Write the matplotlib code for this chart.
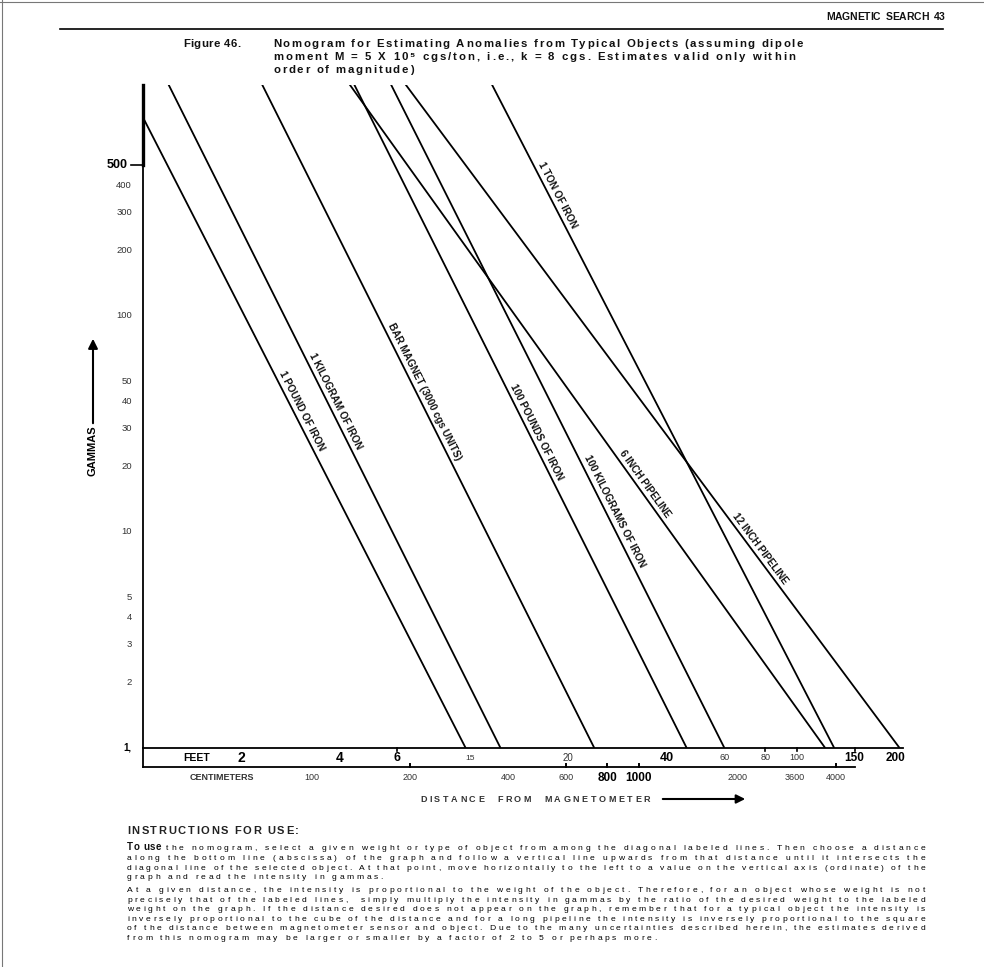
import numpy as np
import matplotlib
matplotlib.use("Agg")
import matplotlib.pyplot as plt
from matplotlib.font_manager import FontProperties
from matplotlib.patches import FancyArrowPatch
from matplotlib.ticker import NullLocator

W, H = 984, 967
NARROW = ["Liberation Sans Narrow", "Liberation Sans", "DejaVu Sans"]
SANS = ["Liberation Sans", "DejaVu Sans"]

# ordinate (gammas)
gamma_ticks = [2, 3, 4, 5, 10, 20, 30, 40, 50, 100, 200, 300, 400]
gamma_labels = ["2", "3", "4", "5", "10", "20", "30", "40", "50", "100", "200", "300", "400"]

# abscissa: feet row and centimeter row
feet_pos = [2, 4, 6, 10, 20, 40, 60, 80, 100, 150, 200]
feet_text = ["2", "4", "6", "15", "20", "40", "60", "80", "100", "150", "200"]
feet_size = [10, 10, 9, 6, 7, 9, 6.5, 6.5, 6.5, 8.5, 8.5]
cm_pos = [100, 200, 400, 600, 800, 1000, 2000, 3000, 4000]
cm_text = ["100", "200", "400", "600", "800", "1000", "2000", "3600", "4000"]
cm_size = [6.5, 6.5, 6.5, 6.5, 8.5, 8.5, 6.5, 6.5, 6.5]

# diagonal lines: upper end and lower end (feet, gammas)
line_names = ["1 POUND OF IRON", "1 KILOGRAM OF IRON", "BAR MAGNET (3000 cgs UNITS)",
              "100 POUNDS OF IRON", "100 KILOGRAMS OF IRON", "6 INCH PIPELINE",
              "12 INCH PIPELINE", "1 TON OF IRON"]
top_ft = [1.0, 1.19, 2.3, 4.4, 5.7, 4.25, 6.3, 11.6]
top_gamma = [830, 1200, 1200, 1200, 1200, 1200, 1200, 1200]
bottom_ft = [9.7, 12.4, 24, 46, 60, 122, 206, 130]
bottom_gamma = [1, 1, 1, 1, 1, 1, 1, 1]
label_gamma = [35, 39, 43, 28, 12, 16, 8, 350]

title_lines = ["Nomogram for Estimating Anomalies from Typical Objects (assuming dipole",
               "moment M = 5 X 10\u2075 cgs/ton, i.e., k = 8 cgs. Estimates valid only within",
               "order of magnitude)"]

para1 = ["the nomogram, select a given weight or type of object from among the diagonal labeled lines. Then choose a distance",
         "along the bottom line (abscissa) of the graph and follow a vertical line upwards from that distance until it intersects the",
         "diagonal line of the selected object. At that point, move horizontally to the left to a value on the vertical axis (ordinate) of the",
         "graph and read the intensity in gammas."]
para2 = ["At a given distance, the intensity is proportional to the weight of the object. Therefore, for an object whose weight is not",
         "precisely that of the labeled lines,  simply multiply the intensity in gammas by the ratio of the desired weight to the labeled",
         "weight on the graph. If the distance desired does not appear on the graph, remember that for a typical object the intensity is",
         "inversely proportional to the cube of the distance and for a long pipeline the intensity is inversely proportional to the square",
         "of the distance between magnetometer sensor and object. Due to the many uncertainties described herein, the estimates derived",
         "from this nomogram may be larger or smaller by a factor of 2 to 5 or perhaps more."]

fig = plt.figure(figsize=(W / 100, H / 100), dpi=100)
renderer = fig.canvas.get_renderer()

# plot box in page pixels
L, R, T, B = 143, 903, 85, 748
ax = fig.add_axes([L / W, 1 - B / H, (R - L) / W, (B - T) / H])
ax.set_xscale("log")
ax.set_yscale("log")
ax.set_xlim(1, 211)
ax.set_ylim(1, 1173)
for s in ["top", "right"]:
    ax.spines[s].set_visible(False)
for s in ["left", "bottom"]:
    ax.spines[s].set_linewidth(1.3)
for a in [ax.xaxis, ax.yaxis]:
    a.set_major_locator(NullLocator())
    a.set_minor_locator(NullLocator())


def ay(py):
    return (B - py) / (B - T)


def axx(px):
    return (px - L) / (R - L)


def cw(c, fp):
    if c == " ":
        return (renderer.get_text_width_height_descent("x x", fp, ismath=False)[0]
                - renderer.get_text_width_height_descent("xx", fp, ismath=False)[0])
    return renderer.get_text_width_height_descent(c, fp, ismath=False)[0]


def spaced(text, x0, y, size, x1=None, gap=None, weight="normal", color="#1a1a1a", family=SANS):
    fp = FontProperties(family=family, size=size, weight=weight)
    widths = [cw(c, fp) for c in text]
    if x1 is not None:
        gap = (x1 - x0 - sum(widths)) / (len(text) - 1)
    x = x0
    for c, w in zip(text, widths):
        if c != " ":
            fig.text(x / W, 1 - y / H, c, fontproperties=fp, color=color, ha="left", va="baseline")
        x += w + gap
    return gap, x


# diagonal lines
for x0, g0, x1, g1 in zip(top_ft, top_gamma, bottom_ft, bottom_gamma):
    ax.plot([x0, x1], [g0, g1], color="black", lw=1.3, solid_capstyle="butt")

lab_fp = FontProperties(family=NARROW, size=7.2, weight="bold")
for name, x0, g0, x1, g1, g in zip(line_names, top_ft, top_gamma, bottom_ft, bottom_gamma, label_gamma):
    t = (np.log10(g) - np.log10(g0)) / (np.log10(g1) - np.log10(g0))
    xl = 10 ** (np.log10(x0) + t * (np.log10(x1) - np.log10(x0)))
    p0 = ax.transData.transform((x0, g0))
    p1 = ax.transData.transform((x1, g1))
    ang = np.arctan2(p1[1] - p0[1], p1[0] - p0[0])
    off = 5.5
    ax.annotate(name, (xl, g), xytext=(-np.sin(ang) * off, np.cos(ang) * off),
                textcoords="offset points", rotation=np.degrees(ang), rotation_mode="anchor",
                ha="center", va="center", fontproperties=lab_fp, color="#111")

# ordinate labels
ytr = ax.get_yaxis_transform()
for v, s in zip(gamma_ticks, gamma_labels):
    ax.text(axx(132), v, s, transform=ytr, ha="right", va="center", fontsize=6.8,
            color="#333", family=SANS, clip_on=False)
ax.text(axx(128), 500, "500", transform=ytr, ha="right", va="center", fontsize=9,
        fontweight="bold", family=SANS, clip_on=False)
ax.plot([axx(131), 0], [500, 500], transform=ytr, color="black", lw=1.2, clip_on=False)
ax.plot([0, 0], [500, 1173], transform=ytr, color="black", lw=2.4, clip_on=False)
ax.text(axx(131), 1, "1,", transform=ytr, ha="right", va="center", fontsize=7,
        fontweight="bold", family=SANS, clip_on=False)

# abscissa rows
xtr = ax.get_xaxis_transform()
ax.plot([0, 0], [0, ay(767)], transform=ax.transAxes, color="black", lw=1.3, clip_on=False)
ax.plot([1, 4574 / 30.48], [ay(767), ay(767)], transform=xtr, color="black", lw=1.3, clip_on=False)
ax.text(axx(197), ay(758), "FEET", transform=ax.transAxes, ha="center", va="center",
        fontsize=7.5, fontweight="bold", family=SANS)
for v, s, fs in zip(feet_pos, feet_text, feet_size):
    bold = fs >= 8.5
    ax.text(v, ay(758), s, transform=xtr, ha="center", va="center", fontsize=fs,
            fontweight="bold" if bold else "normal", color="black" if bold else "#333",
            family=SANS, clip_on=False)
for v in [6, 80, 100, 150]:
    ax.plot([v, v], [0, ay(751)], transform=xtr, color="black", lw=1.2, clip_on=False)
ax.text(axx(222), ay(778), "CENTIMETERS", transform=ax.transAxes, ha="center", va="center",
        fontsize=6.5, fontweight="bold", color="#333", family=SANS)
for v, s, fs in zip(cm_pos, cm_text, cm_size):
    bold = fs >= 8.5
    ax.text(v / 30.48, ay(778), s, transform=xtr, ha="center", va="center", fontsize=fs,
            fontweight="bold" if bold else "normal", color="black" if bold else "#333",
            family=SANS, clip_on=False)
for v in [200, 600, 800, 1000, 4000]:
    ax.plot([v / 30.48, v / 30.48], [ay(767), ay(764)], transform=xtr, color="black", lw=1.4, clip_on=False)

spaced("DISTANCE  FROM  MAGNETOMETER", 420, 802, 6.5, x1=650, weight="bold", color="#333")
fig.add_artist(FancyArrowPatch((660 / W, 1 - 799 / H), (748 / W, 1 - 799 / H), transform=fig.transFigure,
                               arrowstyle="-|>", mutation_scale=13, lw=1.5, color="black"))

fig.text(93 / W, 1 - 451 / H, "GAMMAS", rotation=90, ha="center", va="center", fontsize=8,
         fontweight="bold", family=NARROW)
fig.add_artist(FancyArrowPatch((93 / W, 1 - 426 / H), (93 / W, 1 - 336 / H), transform=fig.transFigure,
                               arrowstyle="-|>", mutation_scale=14, lw=1.5, color="black"))

# page header
fig.add_artist(plt.Line2D([0.002, 0.002], [0, 1], transform=fig.transFigure, color="#777", lw=0.8))
fig.add_artist(plt.Line2D([0, 1], [0.998, 0.998], transform=fig.transFigure, color="#777", lw=0.8))
spaced("MAGNETIC  SEARCH  43", 826, 20, 7.5, x1=945, weight="bold", color="#111")
fig.add_artist(plt.Line2D([60 / W, 943 / W], [1 - 29 / H, 1 - 29 / H], transform=fig.transFigure,
                          color="black", lw=1.2))

tsize = 8.2
spaced("Figure 46.", 183, 47, tsize, gap=0.4, weight="bold", family=NARROW, color="#111")
g1, _ = spaced(title_lines[0], 273, 47, tsize, x1=803, weight="bold", family=NARROW, color="#111")
g2, _ = spaced(title_lines[1], 273, 59.8, tsize, x1=795, weight="bold", family=NARROW, color="#111")
spaced(title_lines[2], 273, 72.6, tsize, gap=(g1 + g2) / 2, weight="bold", family=NARROW, color="#111")

# instructions
bsize = 6.1
spaced("INSTRUCTIONS FOR USE:", 127, 834, 8, gap=1.6, weight="bold", color="#222")
_, xe = spaced("To use", 127, 850, 7, gap=0.6, weight="bold", color="#111")
gaps = []
ys1 = [850, 860, 869.6, 879.2]
g, _ = spaced(para1[0], xe + 4, ys1[0], bsize, x1=925, color="#000")
gaps.append(g)
for line, y in zip(para1[1:3], ys1[1:3]):
    g, _ = spaced(line, 127, y, bsize, x1=925, color="#000")
    gaps.append(g)
spaced(para1[3], 127, ys1[3], bsize, gap=np.mean(gaps), color="#000")
ys2 = [892, 901.6, 911.2, 920.8, 930.4, 940]
gaps = []
for line, y in zip(para2[:5], ys2[:5]):
    g, _ = spaced(line, 127, y, bsize, x1=925, color="#000")
    gaps.append(g)
spaced(para2[5], 127, ys2[5], bsize, gap=np.mean(gaps), color="#000")

fig.savefig("out.png", dpi=100)
